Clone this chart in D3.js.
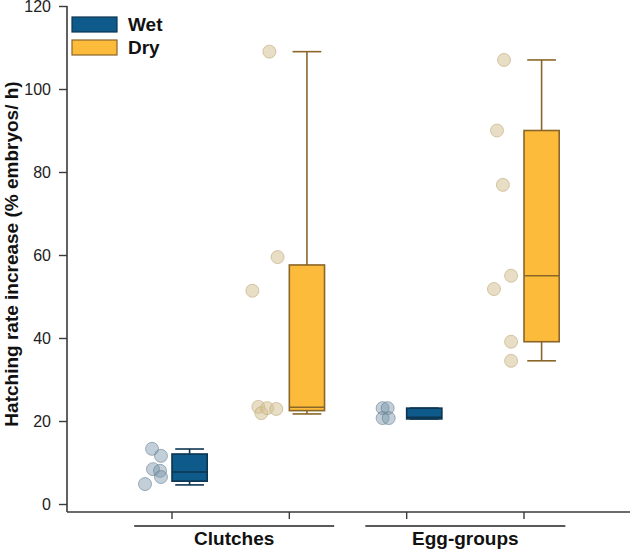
<!DOCTYPE html>
<html>
<head>
<meta charset="utf-8">
<script src="https://cdn.jsdelivr.net/npm/d3@7"></script>
<style>
  body { margin: 0; background: #fff; }
  text { font-family: "Liberation Sans", Arial, sans-serif; }
</style>
</head>
<body>
<div id="chart"></div>
<script>
// data
var groups = ["Clutches", "Egg-groups"];
var treatments = ["Wet", "Dry"];
var yTicks = [0, 20, 40, 60, 80, 100, 120];

// box stats: [min, q1, median, q3, max], order: Clutches-Wet, Clutches-Dry, Egg-Wet, Egg-Dry
var boxStats = [
  [4.6, 5.5, 7.7, 12.05, 13.25],
  [21.7, 22.5, 23.3, 57.6, 109],
  [20.5, 20.5, 20.9, 23.1, 23.1],
  [34.5, 39.1, 55, 90, 107]
];

// raw points per box
var pointValues = [
  [13.3, 11.6, 8.4, 8.0, 6.5, 4.8],
  [109, 59.5, 51.4, 23.4, 21.9, 23.1, 22.9],
  [23.1, 23.1, 20.7, 20.7],
  [107, 90, 76.9, 55, 51.8, 39.1, 34.5]
];
// jitter (in category units, left of the tick)
var pointJitter = [
  [-0.17, -0.094, -0.162, -0.102, -0.094, -0.23],
  [-0.17, -0.10, -0.315, -0.264, -0.239, -0.188, -0.111],
  [-0.205, -0.162, -0.205, -0.153],
  [-0.17, -0.23, -0.18, -0.11, -0.256, -0.11, -0.11]
];
var groupCenters = [1.53, 3.5];

var colors = {
  Wet: { fill: "#0e5a8a", stroke: "#0d3550", pt: "rgba(120,148,168,0.45)", ptStroke: "rgba(95,122,142,0.55)" },
  Dry: { fill: "#fdbb3c", stroke: "#8a6628", pt: "rgba(214,194,150,0.55)", ptStroke: "rgba(190,168,120,0.6)" }
};

var svgWidth = 630;
var svgHeight = 549;

var svg = d3.select("#chart")
  .append("svg")
  .attr("width", svgWidth)
  .attr("height", svgHeight);

var x = d3.scaleLinear()
  .domain([1, 4])
  .range([172, 524]);

var y = d3.scaleLinear()
  .domain([0, 120])
  .range([504, 6]);

var axisColor = "#3a3a3a";
var axisY = 512;
var axisX = 67;

// y axis
var yAxis = svg.append("g")
  .attr("transform", `translate(${axisX}, 0)`)
  .call(d3.axisLeft(y).tickValues(yTicks).tickSize(8).tickPadding(8).tickSizeOuter(0));
yAxis.select(".domain").remove();
yAxis.selectAll(".tick line").attr("stroke", axisColor).attr("stroke-width", 1.4);
yAxis.selectAll(".tick text")
  .attr("font-size", "16px")
  .attr("fill", "#222")
  .style("font-family", "Liberation Sans, Arial, sans-serif");

svg.append("line")
  .attr("x1", axisX).attr("x2", axisX)
  .attr("y1", y(120)).attr("y2", axisY)
  .attr("stroke", axisColor).attr("stroke-width", 1.6);

// x axis
svg.append("line")
  .attr("x1", axisX).attr("x2", svgWidth)
  .attr("y1", axisY).attr("y2", axisY)
  .attr("stroke", axisColor).attr("stroke-width", 1.6);

svg.selectAll(".xtick")
  .data([1, 2, 3, 4])
  .enter()
  .append("line")
  .attr("class", "xtick")
  .attr("x1", d => x(d)).attr("x2", d => x(d))
  .attr("y1", axisY).attr("y2", axisY + 7)
  .attr("stroke", axisColor).attr("stroke-width", 1.4);

// group brackets + labels
groups.forEach((g, i) => {
  var c = x(groupCenters[i]);
  svg.append("line")
    .attr("x1", c - 100).attr("x2", c + 100)
    .attr("y1", 526).attr("y2", 526)
    .attr("stroke", "#222").attr("stroke-width", 1.4);
  svg.append("text")
    .attr("x", c)
    .attr("y", 545)
    .attr("text-anchor", "middle")
    .attr("font-size", "19px")
    .attr("font-weight", "bold")
    .attr("fill", "#111")
    .text(g);
});

// y title
svg.append("text")
  .attr("transform", `translate(18, 254) rotate(-90)`)
  .attr("text-anchor", "middle")
  .attr("font-size", "19px")
  .attr("font-weight", "bold")
  .attr("fill", "#111")
  .text("Hatching rate increase (% embryos/ h)");

var boxW = 0.3;
var capW = 0.245;

boxStats.forEach((s, i) => {
  var t = treatments[i % 2];
  var col = colors[t];
  var pos = i + 1;

  // points
  svg.selectAll(".pt" + i)
    .data(pointValues[i])
    .enter()
    .append("circle")
    .attr("class", "pt" + i)
    .attr("cx", (d, j) => x(pos + pointJitter[i][j]))
    .attr("cy", d => y(d))
    .attr("r", 6.5)
    .attr("fill", col.pt)
    .attr("stroke", col.ptStroke)
    .attr("stroke-width", 1);

  var cx = x(pos + boxW / 2);
  var g = svg.append("g");

  // whiskers
  g.append("line")
    .attr("x1", cx).attr("x2", cx)
    .attr("y1", y(s[4])).attr("y2", y(s[3]))
    .attr("stroke", col.stroke).attr("stroke-width", 1.6);
  g.append("line")
    .attr("x1", cx).attr("x2", cx)
    .attr("y1", y(s[1])).attr("y2", y(s[0]))
    .attr("stroke", col.stroke).attr("stroke-width", 1.6);
  [s[0], s[4]].forEach(v => {
    g.append("line")
      .attr("x1", x(pos + boxW / 2 - capW / 2)).attr("x2", x(pos + boxW / 2 + capW / 2))
      .attr("y1", y(v)).attr("y2", y(v))
      .attr("stroke", col.stroke).attr("stroke-width", 1.6);
  });

  // box
  g.append("rect")
    .attr("x", x(pos))
    .attr("y", y(s[3]))
    .attr("width", x(pos + boxW) - x(pos))
    .attr("height", y(s[1]) - y(s[3]))
    .attr("fill", col.fill)
    .attr("stroke", col.stroke)
    .attr("stroke-width", 1.6);

  g.append("line")
    .attr("x1", x(pos)).attr("x2", x(pos + boxW))
    .attr("y1", y(s[2])).attr("y2", y(s[2]))
    .attr("stroke", col.stroke).attr("stroke-width", 1.6);
});

// legend
var legend = svg.append("g");
treatments.forEach((t, i) => {
  legend.append("rect")
    .attr("x", 72)
    .attr("y", 17 + i * 23)
    .attr("width", 45)
    .attr("height", 15)
    .attr("fill", colors[t].fill)
    .attr("stroke", colors[t].stroke)
    .attr("stroke-width", 1.2);
  legend.append("text")
    .attr("x", 128)
    .attr("y", 31 + i * 23)
    .attr("font-size", "19px")
    .attr("font-weight", "bold")
    .attr("fill", "#111")
    .text(t);
});
</script>
</body>
</html>
